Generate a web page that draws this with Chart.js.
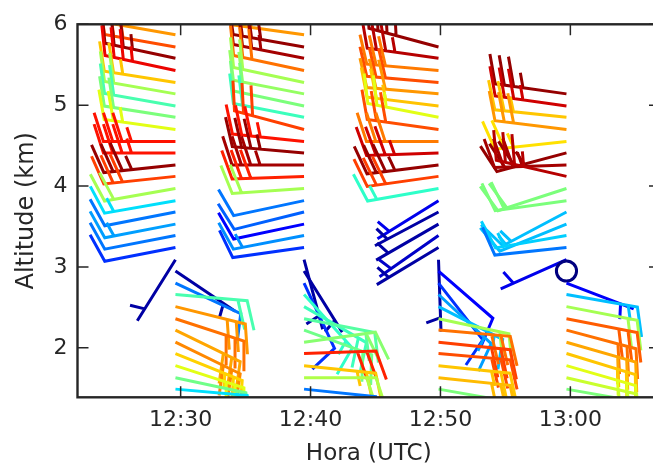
<!DOCTYPE html>
<html>
<head>
<meta charset="utf-8">
<script src="https://cdn.jsdelivr.net/npm/chart.js@4.4.0/dist/chart.umd.min.js"></script>
<style>
  html, body { margin: 0; padding: 0; overflow: hidden; background: #fff; }
  #wrap { width: 662px; height: 472px; }
</style>
</head>
<body>
<div id="wrap"><canvas id="myChart" width="662" height="472"></canvas></div>
<script>
// launch time of each sounding, minutes after 12:00 UTC
const launchTimes = [29.6, 39.5, 49.85, 59.7];
// altitude of every barb level (km), same levels for all soundings
const altitudes = [5.87, 5.72, 5.58, 5.43, 5.28, 5.14, 4.99, 4.85, 4.70, 4.55, 4.41, 4.26, 4.12, 3.97, 3.82, 3.68,
  3.53, 3.39, 3.24, 3.09, 2.95, 2.80, 2.66, 2.51, 2.36, 2.22, 2.07, 1.93, 1.78, 1.63, 1.49];

// wind direction (degrees, where the wind comes from), null = no data
const dir1230 = [280, 280, 282, 282, 279, 280, 280, 279, 278, 270, 270, 264, 264, 260, 260, 259, 259, 259, 259,
  212, 124, 115, 95, 104, 108, 116, 116, 112, 108, 102, 95];
const dir1240 = [278, 280, 281, 282, 282, 281, 282, 281, 285, 276, 275, 270, 268, 266, 258, 256, 258, 259, 262,
  165, 148, 155, 138, 120, 101, 110, 82, 88, 96, 90, 96];
const dir1250 = [null, 285, 278, 275, 275, 275, 277, 281, 278, 270, 268, 263, 262, 260, 238, 242, 240, 235, 239,
  178, 131, 142, 133, 117, 102, 95, 96, 95, 96, 96, 100];
const dir1300 = [null, null, null, null, null, 278, 278, 276, 277, 264, 255, 268, 283, 252, 262, 242, 248, 260, 264,
  246, 0, 111, 100, 101, 101, 105, 106, 107, 106, 103, 100];

// wind speed (kt), null = no data
const spd1230 = [28, 30.5, 35.4, 33, 26.4, 21.6, 18, 20, 24, 32.5, 32.5, 35.4, 31, 21.6, 15, 11.7, 13, 11.7, 9.5,
  5, 5, 11.7, 18, 28, 29.3, 27.5, 28.5, 26, 24, 19.5, 15];
const spd1240 = [28, 35.4, 35, 29.3, 21.6, 21, 20, 17.5, 31, 32.5, 35.4, 35, 32, 21.6, 11.7, 11, 8, 12.5, 9.5,
  5, 5, 9.5, 17, 17.5, 18.5, 19.5, 20.5, 32, 26.4, 22, 11.7];
const spd1250 = [null, 35.4, 34.5, 29, 30.5, 28, 26.5, 24, 30.5, 29, 33.8, 35.4, 31, 17, 7, 5, 5, 6, 5,
  5, 8, 9.5, 13, 14, 21.6, 29.3, 31, 30.5, 26.4, 26.8, 20];
const spd1300 = [null, null, null, null, null, 35.4, 33.8, 26.4, 28, 25.5, 35.4, 35, 34.5, 20, 20, 14, 14, 14.5, 11.7,
  7, 0, 7.4, 14, 21.6, 30, 29.3, 27.5, 26.4, 24, 23, 20];

// axis ticks
const xTicks = [30, 40, 50, 60];
const xTickLabels = ["12:30", "12:40", "12:50", "13:00"];
const yTicks = [2, 3, 4, 5, 6];

const directions = [dir1230, dir1240, dir1250, dir1300];
const speeds = [spd1230, spd1240, spd1250, spd1300];

const ink = '#262626';
const fontName = 'DejaVu Sans';

// colour scale for the speed (matplotlib jet)
function jet(t) {
  t = Math.max(0, Math.min(1, t));
  function seg(pts) {
    for (let i = 1; i < pts.length; i++) {
      if (t <= pts[i][0]) {
        const a = pts[i - 1], b = pts[i];
        return a[1] + (b[1] - a[1]) * (t - a[0]) / (b[0] - a[0]);
      }
    }
    return pts[pts.length - 1][1];
  }
  const r = seg([[0, 0], [0.35, 0], [0.66, 1], [0.89, 1], [1, 0.5]]);
  const g = seg([[0, 0], [0.125, 0], [0.375, 1], [0.64, 1], [0.91, 0], [1, 0]]);
  const b = seg([[0, 0.5], [0.11, 1], [0.34, 1], [0.65, 0], [1, 0]]);
  return 'rgb(' + Math.round(r * 255) + ',' + Math.round(g * 255) + ',' + Math.round(b * 255) + ')';
}

// barb geometry (pixels)
const staffLen = 72;
const barbSpacing = 0.13 * staffLen;
const barbHeight = 0.4 * staffLen;
const barbAlong = 0.13 * staffLen;
const calmRadius = 0.14 * staffLen;

function drawBarb(ctx, bx, by, spd, dir) {
  ctx.strokeStyle = jet((spd - 4) / 32);
  const mag = Math.round(spd / 5) * 5;
  if (mag === 0) {
    ctx.beginPath();
    ctx.arc(bx, by, calmRadius, 0, 2 * Math.PI);
    ctx.stroke();
    return;
  }
  const a = dir * Math.PI / 180;
  const dx = Math.sin(a), dy = -Math.cos(a);
  const nx = -dy, ny = dx;
  const nFull = Math.floor(mag / 10);
  const half = mag % 10 >= 5;
  ctx.beginPath();
  ctx.moveTo(bx, by);
  ctx.lineTo(bx + staffLen * dx, by + staffLen * dy);
  let off = staffLen;
  for (let i = 0; i < nFull; i++) {
    const px = bx + off * dx, py = by + off * dy;
    if (i > 0) ctx.moveTo(px, py);
    ctx.lineTo(px + barbHeight * nx + barbAlong * dx, py + barbHeight * ny + barbAlong * dy);
    off -= barbSpacing;
  }
  if (half) {
    if (off === staffLen) off -= 1.5 * barbSpacing;
    const px = bx + off * dx, py = by + off * dy;
    ctx.moveTo(px, py);
    ctx.lineTo(px + barbHeight / 2 * nx + barbAlong / 2 * dx, py + barbHeight / 2 * ny + barbAlong / 2 * dy);
  }
  ctx.stroke();
}

// draw the wind barbs of every dataset, clipped to the plot area
const barbPlugin = {
  id: 'barbs',
  afterDatasetsDraw(chart) {
    const ctx = chart.ctx, area = chart.chartArea;
    const xs = chart.scales.x, ys = chart.scales.y;
    ctx.save();
    ctx.beginPath();
    ctx.rect(area.left, area.top, area.right - area.left, area.bottom - area.top);
    ctx.clip();
    ctx.lineWidth = 3;
    ctx.lineCap = 'butt';
    ctx.lineJoin = 'miter';
    chart.data.datasets.forEach(function (ds) {
      ds.data.forEach(function (p) {
        drawBarb(ctx, xs.getPixelForValue(p.x), ys.getPixelForValue(p.y), p.spd, p.dir);
      });
    });
    ctx.restore();
  }
};

// box around the plot with ticks pointing inwards on all sides
const framePlugin = {
  id: 'frame',
  afterDraw(chart) {
    const ctx = chart.ctx, area = chart.chartArea;
    const xs = chart.scales.x, ys = chart.scales.y;
    const tl = 11;
    ctx.save();
    ctx.strokeStyle = ink;
    ctx.lineWidth = 1.5;
    ctx.beginPath();
    xTicks.forEach(function (v) {
      const px = xs.getPixelForValue(v);
      ctx.moveTo(px, area.bottom); ctx.lineTo(px, area.bottom - tl);
      ctx.moveTo(px, area.top); ctx.lineTo(px, area.top + tl);
    });
    yTicks.forEach(function (v) {
      const py = ys.getPixelForValue(v);
      ctx.moveTo(area.left, py); ctx.lineTo(area.left + tl, py);
      ctx.moveTo(area.right, py); ctx.lineTo(area.right - tl, py);
    });
    ctx.stroke();
    ctx.lineWidth = 2.4;
    ctx.strokeRect(area.left, area.top, area.right - area.left, area.bottom - area.top);
    ctx.restore();
  }
};

const datasets = launchTimes.map(function (t, i) {
  const pts = [];
  for (let k = 0; k < altitudes.length; k++) {
    if (speeds[i][k] == null) continue;
    pts.push({ x: t, y: altitudes[k], spd: speeds[i][k], dir: directions[i][k] });
  }
  return { label: xTickLabels[i], data: pts, pointRadius: 0, showLine: false };
});

const ctx = document.getElementById('myChart').getContext('2d');
const myChart = new Chart(ctx, {
  type: 'scatter',
  data: { datasets: datasets },
  options: {
    responsive: false,
    animation: false,
    layout: { padding: { top: 24.3, right: 2, left: 0, bottom: 0 } },
    plugins: { legend: { display: false }, tooltip: { enabled: false } },
    scales: {
      x: {
        type: 'linear',
        min: 22.06,
        max: 66.9,
        afterBuildTicks: function (s) { s.ticks = xTicks.map(function (v) { return { value: v }; }); },
        afterFit: function (s) { s.height = 74.7; },
        grid: { display: false, drawTicks: false },
        border: { display: false },
        ticks: {
          callback: function (v) { return xTickLabels[xTicks.indexOf(v)]; },
          font: { family: fontName, size: 22 },
          color: ink,
          padding: 10,
          maxRotation: 0,
          autoSkip: false
        },
        title: {
          display: true,
          text: 'Hora (UTC)',
          font: { family: fontName, size: 23 },
          color: ink,
          padding: { top: 0, bottom: 4 }
        }
      },
      y: {
        type: 'linear',
        min: 1.389,
        max: 6,
        afterBuildTicks: function (s) { s.ticks = yTicks.map(function (v) { return { value: v }; }); },
        afterFit: function (s) { s.width = 77.5; },
        grid: { display: false, drawTicks: false },
        border: { display: false },
        ticks: {
          callback: function (v) { return String(v); },
          font: { family: fontName, size: 22 },
          color: ink,
          padding: 10
        },
        title: {
          display: true,
          text: 'Altitude (km)',
          font: { family: fontName, size: 24 },
          color: ink,
          padding: { top: 12, bottom: 0 }
        }
      }
    }
  },
  plugins: [barbPlugin, framePlugin]
});
</script>
</body>
</html>
